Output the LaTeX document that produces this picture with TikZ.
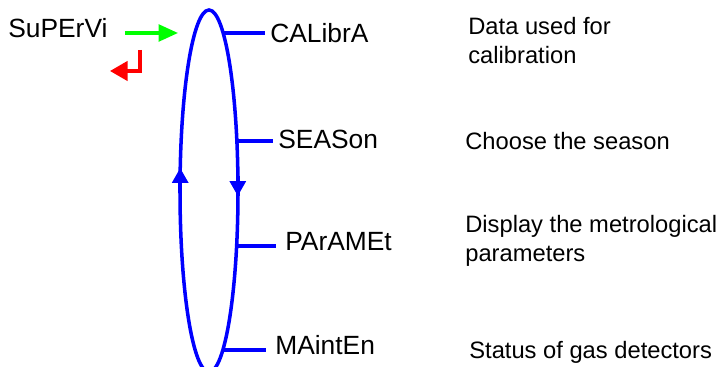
\documentclass[tikz,border=0pt]{standalone}
\usepackage{fontspec}
\setmainfont{Liberation Sans}
\usetikzlibrary{arrows.meta}

\tikzset{
    menu/.style={anchor=west, inner sep=0pt, font=\fontsize{15}{18}\selectfont},
    help/.style={anchor=west, inner sep=0pt, align=left, font=\fontsize{13.5}{16.5}\selectfont},
    ring/.style={color=blue, line width=2pt},
    ringtip/.style={ring, -{Triangle[length=8.5pt, width=9pt]}},
}

\begin{document}
\begin{tikzpicture}[x=0.02cm, y=-0.02cm]
    \useasboundingbox (0,0) rectangle (723,367);

    % the menu loop
    \draw [ring] (209,191) ellipse (29 and 181);
    \draw [ringtip] (180.2,190) -- (180.2,168);
    \draw [ringtip] (237.8,176) -- (237.8,196);

    \node [menu] (supervi) at (8,28) {SuPErVi};
    \coordinate (entry) at (178,33);
    \draw [color=green, line width=1.8pt, -{Triangle[length=11pt, width=9.5pt]}] (supervi.east |- entry) ++(17,0) -- (entry);

    \coordinate (back1) at (140,50);
    \coordinate (back2) at (110,71);
    \draw [color=red, line width=1.8pt, -{Triangle[length=10pt, width=11pt]}] (back1) |- (back2);

    \node [menu] (calib) at (270,33) {CALibrA};
    \node [menu] (season) at (278,139) {SEASon};
    \node [menu] (param) at (285,242) {PArAMEt};
    \node [menu] (maint) at (275,345) {MAintEn};

    \coordinate (e1) at (223.2,33);
    \coordinate (e2) at (236.9,141);
    \coordinate (e3) at (236.6,246);
    \coordinate (e4) at (222.9,350);

    \draw [ring, shorten >=3pt] (e1) -- (e1 -| calib.west);
    \draw [ring, shorten >=3pt] (e2) -- (e2 -| season.west);
    \draw [ring, shorten >=5pt] (e3) -- (e3 -| param.west);
    \draw [ring, shorten >=5pt] (e4) -- (e4 -| maint.west);

    \node [help] (calibtxt) at (468,41) {Data used for\\calibration};
    \node [help] (seasontxt) at (465,141) {Choose the season};
    \node [help] (paramtxt) at (465,241) {Display the metrological\\parameters};
    \node [help] (mainttxt) at (469,352) {Status of gas detectors};

\end{tikzpicture}
\end{document}
